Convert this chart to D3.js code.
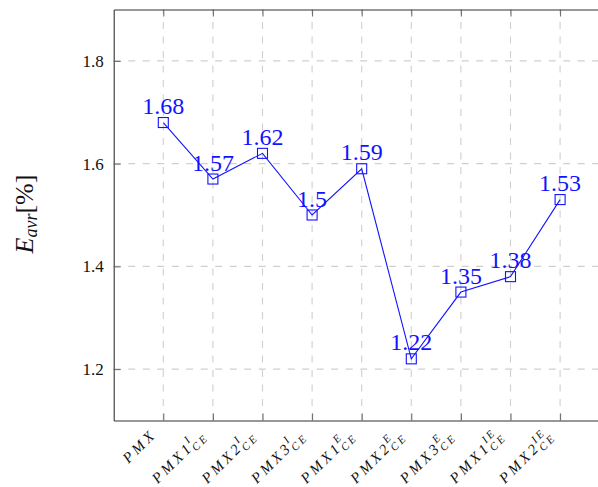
<!DOCTYPE html>
<html>
<head>
<meta charset="utf-8">
<script src="https://cdn.jsdelivr.net/npm/d3@7"></script>
<style>
  html, body { margin: 0; padding: 0; background: #fff; }
  svg { display: block; }
</style>
</head>
<body>
<svg id="chart" width="598" height="487"></svg>
<script>
// Scheme names on the x axis: base name, superscript, subscript
const tickBase = ["PMX", "PMX1", "PMX2", "PMX3", "PMX1", "PMX2", "PMX3", "PMX1", "PMX2"];
const tickSup  = ["",    "I",    "I",    "I",    "E",    "E",    "E",    "IE",   "IE"];
const tickSub  = ["",    "CE",   "CE",   "CE",   "CE",   "CE",   "CE",   "CE",   "CE"];
// Average error per scheme (%)
const eavr = [1.68, 1.57, 1.62, 1.5, 1.59, 1.22, 1.35, 1.38, 1.53];
const valueLabels = ["1.68", "1.57", "1.62", "1.5", "1.59", "1.22", "1.35", "1.38", "1.53"];
const yTicks = [1.2, 1.4, 1.6, 1.8];
const yTickLabels = ["1.2", "1.4", "1.6", "1.8"];

const plot = { left: 113.7, right: 609.7, top: 9.5, bottom: 420.5 };
const blue = "#1212ff";
const FONT = "Liberation Serif, DejaVu Serif, serif";

const svg = d3.select("#chart");

const x = d3.scaleLinear().domain([-1, 9]).range([plot.left, plot.right]);
const y = d3.scaleLinear().domain([1.1, 1.9]).range([plot.bottom, plot.top]);

// dashed grid
const grid = svg.append("g").attr("stroke", "#cfcfcf").attr("stroke-width", 1.1)
  .attr("stroke-dasharray", "7,7.5").attr("fill", "none");
grid.selectAll("line.v").data(d3.range(eavr.length)).join("line")
  .attr("class", "v")
  .attr("x1", d => x(d)).attr("x2", d => x(d))
  .attr("y1", plot.bottom).attr("y2", plot.top);
grid.selectAll("line.h").data(yTicks).join("line")
  .attr("class", "h")
  .attr("x1", plot.left).attr("x2", plot.right)
  .attr("y1", d => y(d)).attr("y2", d => y(d));

// axes: ticks point inward
const tickLen = 7;
function styleAxis(g) {
  g.select(".domain").attr("stroke", "#333").attr("stroke-width", 1.1);
  g.selectAll(".tick line").attr("stroke", "#666").attr("stroke-width", 1);
}
const xIdx = d3.range(eavr.length);
svg.append("g").attr("transform", `translate(0,${plot.bottom})`)
  .call(d3.axisBottom(x).tickValues(xIdx).tickFormat("").tickSize(-tickLen).tickSizeOuter(0))
  .call(styleAxis);
svg.append("g").attr("transform", `translate(0,${plot.top})`)
  .call(d3.axisTop(x).tickValues(xIdx).tickFormat("").tickSize(-tickLen).tickSizeOuter(0))
  .call(styleAxis);
svg.append("g").attr("transform", `translate(${plot.right},0)`)
  .call(d3.axisRight(y).tickValues(yTicks).tickFormat("").tickSize(-tickLen).tickSizeOuter(0))
  .call(styleAxis);
const yAxis = svg.append("g").attr("transform", `translate(${plot.left},0)`)
  .call(d3.axisLeft(y).tickValues(yTicks).tickFormat((d, i) => yTickLabels[i])
    .tickSize(-tickLen).tickSizeOuter(0).tickPadding(10))
  .call(styleAxis);
yAxis.selectAll(".tick text")
  .style("font-family", FONT).style("font-size", "17px").attr("fill", "#111");

// rotated x tick labels with stacked super/subscripts
const xLab = svg.append("g").style("font-family", FONT)
  .style("font-style", "italic").attr("fill", "#111");
xIdx.forEach(i => {
  const g = xLab.append("g")
    .attr("transform", `translate(${x(i) - 9},${plot.bottom + 12}) rotate(-45)`);
  const inner = g.append("g");
  const main = inner.append("text").attr("x", 0).attr("y", 4)
    .style("font-size", "15px").attr("letter-spacing", 3.2).text(tickBase[i]);
  const w = main.node().getComputedTextLength();
  let extra = 0;
  if (tickSup[i]) {
    const sp = inner.append("text").attr("x", w - 1).attr("y", -3)
      .style("font-size", "11px").attr("letter-spacing", 2.5).text(tickSup[i]);
    extra = Math.max(extra, sp.node().getComputedTextLength() - 1);
  }
  if (tickSub[i]) {
    const sb = inner.append("text").attr("x", w - 1).attr("y", 8)
      .style("font-size", "11px").attr("letter-spacing", 2.5).text(tickSub[i]);
    extra = Math.max(extra, sb.node().getComputedTextLength() - 1);
  }
  inner.attr("transform", `translate(${-(w + extra)},0)`);
});

// y axis title
const yTitle = svg.append("text")
  .attr("transform", `translate(33,214) rotate(-90)`)
  .attr("text-anchor", "middle").style("font-family", FONT).attr("fill", "#111");
yTitle.append("tspan").style("font-style", "italic").style("font-size", "26px").text("E");
yTitle.append("tspan").style("font-style", "italic").style("font-size", "18px").attr("dy", 4).text("avr");
yTitle.append("tspan").style("font-size", "26px").attr("dy", -4).text("[%]");

// series line, square markers and value labels
const line = d3.line().x((d, i) => x(i)).y(d => y(d));
svg.append("path").datum(eavr)
  .attr("d", line).attr("fill", "none").attr("stroke", blue).attr("stroke-width", 1.1);

const ms = 10;
svg.append("g").selectAll("rect").data(eavr).join("rect")
  .attr("x", (d, i) => x(i) - ms / 2).attr("y", d => y(d) - ms / 2)
  .attr("width", ms).attr("height", ms)
  .attr("fill", "none").attr("stroke", blue).attr("stroke-width", 1.1);

svg.append("g").selectAll("text").data(eavr).join("text")
  .attr("x", (d, i) => x(i)).attr("y", d => y(d) - 8.5)
  .attr("text-anchor", "middle").style("font-family", FONT).style("font-size", "24px")
  .attr("fill", blue).text((d, i) => valueLabels[i]);
</script>
</body>
</html>
